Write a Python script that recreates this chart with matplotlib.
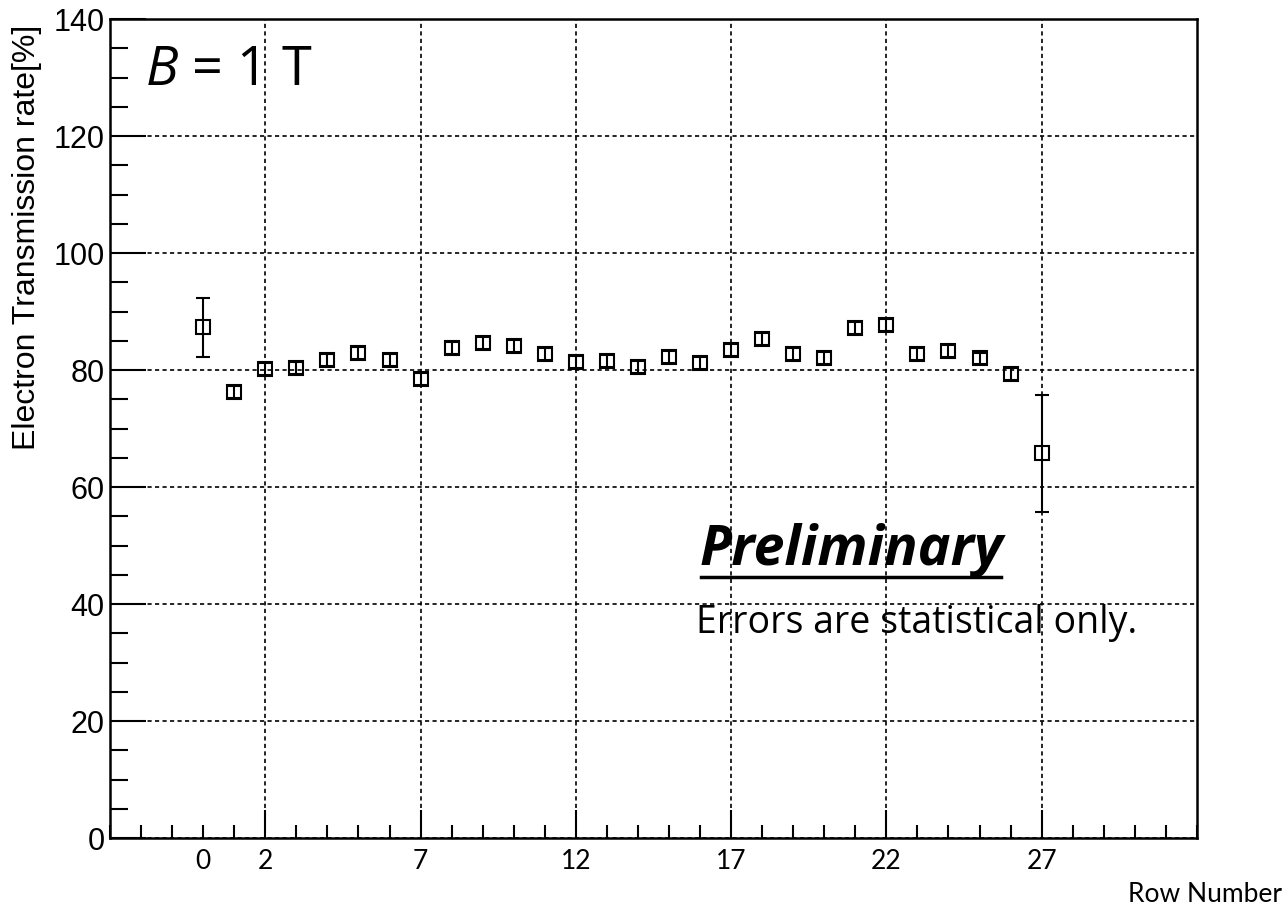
import numpy as np
import matplotlib.pyplot as plt
from matplotlib.ticker import MultipleLocator, FixedLocator, NullFormatter
from matplotlib.transforms import blended_transform_factory

plt.rcParams['mathtext.fontset'] = 'custom'
plt.rcParams['mathtext.rm'] = 'Open Sans'
plt.rcParams['mathtext.it'] = 'Open Sans:italic'

# values
rows = list(range(28))
rate = [87.3, 76.2, 80.2, 80.3, 81.7, 82.9, 81.7, 78.5, 83.8, 84.6,
        84.1, 82.7, 81.4, 81.5, 80.5, 82.2, 81.2, 83.4, 85.3, 82.7,
        82.1, 87.2, 87.7, 82.7, 83.3, 82.0, 79.3, 65.8]
rate_err = [5.0, 1.0, 1.0, 1.0, 1.0, 1.0, 1.0, 1.0, 1.0, 1.0,
            1.0, 1.0, 1.0, 1.0, 1.0, 1.0, 1.0, 1.0, 1.0, 1.0,
            1.0, 1.0, 1.0, 1.0, 1.0, 1.0, 1.0, 10.0]
row_labels = [0, 2, 7, 12, 17, 22, 27]
grid_rows = [2, 7, 12, 17, 22, 27]

fig = plt.figure(figsize=(12.87, 9.09), dpi=100)
ax = fig.add_axes([0.0855, 0.078, 0.8445, 0.901])

ax.errorbar(rows, rate, yerr=rate_err, fmt='s', mfc='none', mec='black',
            mew=1.5, ms=10.5, ecolor='black', elinewidth=1.5, capsize=5,
            capthick=1.5, color='black', zorder=3)

ax.set_xlim(-3, 32)
ax.set_ylim(0, 140)

# x: long ticks at grid rows, short ticks at every row
ax.xaxis.set_major_locator(FixedLocator(grid_rows))
ax.xaxis.set_minor_locator(MultipleLocator(1))
ax.xaxis.set_major_formatter(NullFormatter())
ax.tick_params(axis='x', which='major', direction='in', length=20, width=1.5)
ax.tick_params(axis='x', which='minor', direction='in', length=9.5, width=1.5)

ax.yaxis.set_major_locator(MultipleLocator(20))
ax.yaxis.set_minor_locator(MultipleLocator(5))
ax.tick_params(axis='y', which='major', direction='in', length=26, width=1.5,
               labelsize=22, pad=4)
ax.tick_params(axis='y', which='minor', direction='in', length=13, width=1.5)
for lbl in ax.get_yticklabels():
    lbl.set_family('Liberation Sans')

for sp in ax.spines.values():
    sp.set_linewidth(1.8)

ax.grid(True, which='major', color='black', linestyle=(0, (2.5, 2)),
        linewidth=1.2)

ax.set_ylabel('Electron Transmission rate[%]', family='Liberation Sans',
              fontsize=23, labelpad=4)
ax.yaxis.set_label_coords(-0.0625, 0.733)

# row labels under the axis
trans = blended_transform_factory(ax.transData, fig.transFigure)
for r in row_labels:
    ax.text(r, 0.052, str(r), transform=trans, ha='center', va='center',
            family='Lato', fontsize=19)
fig.text(0.996, 0.016, 'Row Number', ha='right', va='center',
         family='Lato', fontsize=19)

ax.text(0.032, 0.937, r'$B$ = 1 T', transform=ax.transAxes,
        family='Open Sans', fontsize=39, va='center', ha='left')
prelim = ax.text(0.542, 0.333, 'Preliminary', transform=ax.transAxes,
                 family='Open Sans', fontsize=40, fontweight='bold',
                 fontstyle='italic', va='baseline', ha='left')
ax.text(0.539, 0.25, 'Errors are statistical only.', transform=ax.transAxes,
        family='Open Sans', fontsize=27, va='baseline', ha='left')

# underline the "Preliminary" label
fig.canvas.draw()
bb = prelim.get_window_extent().transformed(ax.transAxes.inverted())
ax.plot([bb.x0 + 0.002, bb.x1 - 0.002], [0.319, 0.319], transform=ax.transAxes,
        color='black', lw=2.5, clip_on=False)

fig.savefig('out.png', dpi=100)
